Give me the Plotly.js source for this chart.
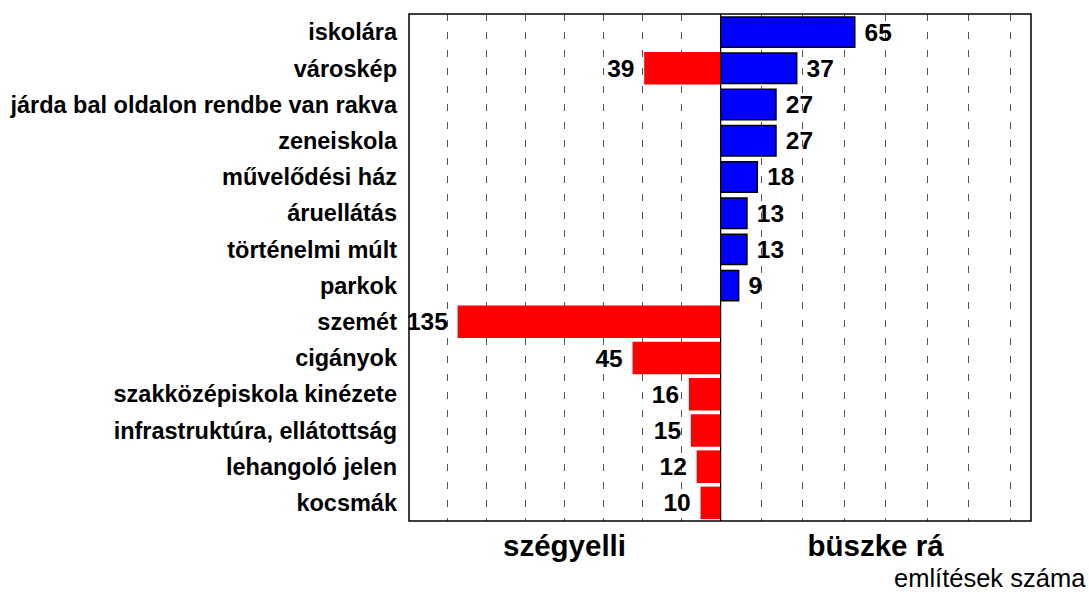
<!DOCTYPE html>
<html>
<head>
<meta charset="utf-8">
<script src="https://cdn.plot.ly/plotly-3.0.1.min.js"></script>
<style>html,body{margin:0;padding:0;background:#fff;}#chart{width:1089px;height:592px;}</style>
</head>
<body>
<div id="chart"></div>
<script>
// Categories, top to bottom
const categories = [
  "iskolára", "városkép", "járda bal oldalon rendbe van rakva", "zeneiskola",
  "művelődési ház", "áruellátás", "történelmi múlt", "parkok", "szemét",
  "cigányok", "szakközépiskola kinézete", "infrastruktúra, ellátottság",
  "lehangoló jelen", "kocsmák"
];
// "büszke rá" (proud of it) – blue
const proudCats = ["iskolára", "városkép", "járda bal oldalon rendbe van rakva", "zeneiskola",
  "művelődési ház", "áruellátás", "történelmi múlt", "parkok"];
const proudVals = [65, 37, 27, 27, 18, 13, 13, 9];
// "szégyelli" (ashamed of it) – red
const ashamedCats = ["városkép", "szemét", "cigányok", "szakközépiskola kinézete",
  "infrastruktúra, ellátottság", "lehangoló jelen", "kocsmák"];
const ashamedVals = [39, 135, 45, 16, 15, 12, 10];

const axisTitles = {left: "szégyelli", right: "büszke rá", note: "említések száma"};

const FONT = "Liberation Sans, Arial, sans-serif";
const NB = "\u00A0";

const traces = [
  {
    type: "bar", orientation: "h",
    y: ashamedCats, x: ashamedVals,
    xaxis: "x", yaxis: "y",
    width: 0.9,
    marker: {color: "#ff0000", line: {width: 0}},
    text: ashamedVals.map(v => v + NB),
    textposition: "outside",
    constraintext: "none",
    cliponaxis: false,
    textfont: {family: FONT, size: 24.5, color: "#000", weight: "bold"},
    hoverinfo: "x+y", name: axisTitles.left
  },
  {
    type: "bar", orientation: "h",
    y: proudCats, x: proudVals,
    xaxis: "x2", yaxis: "y",
    width: 0.84,
    marker: {color: "#0000ff", line: {width: 1.5, color: "#000"}},
    text: proudVals.map(v => NB + v),
    textposition: "outside",
    constraintext: "none",
    cliponaxis: false,
    textfont: {family: FONT, size: 24.5, color: "#000", weight: "bold"},
    hoverinfo: "x+y", name: axisTitles.right
  }
];

const gridStyle = {
  showgrid: true, gridcolor: "#555", gridwidth: 1, griddash: "7px,11px",
  dtick: 20, tick0: 0, showticklabels: false, ticks: "", zeroline: false,
  showline: false, fixedrange: true
};

const layout = {
  width: 1089, height: 592,
  margin: {l: 409, r: 58, t: 14, b: 71},
  paper_bgcolor: "#fff", plot_bgcolor: "#fff",
  showlegend: false,
  barmode: "overlay",
  font: {family: FONT, color: "#000"},
  xaxis: Object.assign({}, gridStyle, {
    domain: [0, 0.5], range: [160, 0], anchor: "y",
    automargin: true,
    title: {text: axisTitles.left, font: {family: FONT, size: 29.5, weight: "bold", color: "#000"}, standoff: 14}
  }),
  xaxis2: Object.assign({}, gridStyle, {
    domain: [0.5, 1], range: [0, 150], anchor: "y",
    automargin: true,
    title: {text: axisTitles.right, font: {family: FONT, size: 29.5, weight: "bold", color: "#000"}, standoff: 14}
  }),
  yaxis: {
    type: "category", categoryorder: "array", categoryarray: categories,
    autorange: "reversed", showgrid: false, zeroline: false, showline: false,
    ticks: "", ticklabelstandoff: 11, automargin: false, fixedrange: true,
    tickfont: {family: FONT, size: 23.5, weight: "bold", color: "#000"}
  },
  shapes: [
    {type: "rect", xref: "paper", yref: "paper", x0: 0, x1: 1, y0: 0, y1: 1,
     line: {color: "#000", width: 1.5}, fillcolor: "rgba(0,0,0,0)", layer: "above"},
    {type: "line", xref: "x2", yref: "paper", x0: 0, x1: 0, y0: 0, y1: 1,
     line: {color: "#000", width: 2.5}, layer: "above"}
  ],
  annotations: [
    {text: axisTitles.note, xref: "paper", yref: "paper", x: 1.091, y: -0.112,
     xanchor: "right", yanchor: "middle", showarrow: false,
     font: {family: FONT, size: 25.5, color: "#000"}}
  ]
};

Plotly.newPlot("chart", traces, layout, {displayModeBar: false, staticPlot: true});
</script>
</body>
</html>
